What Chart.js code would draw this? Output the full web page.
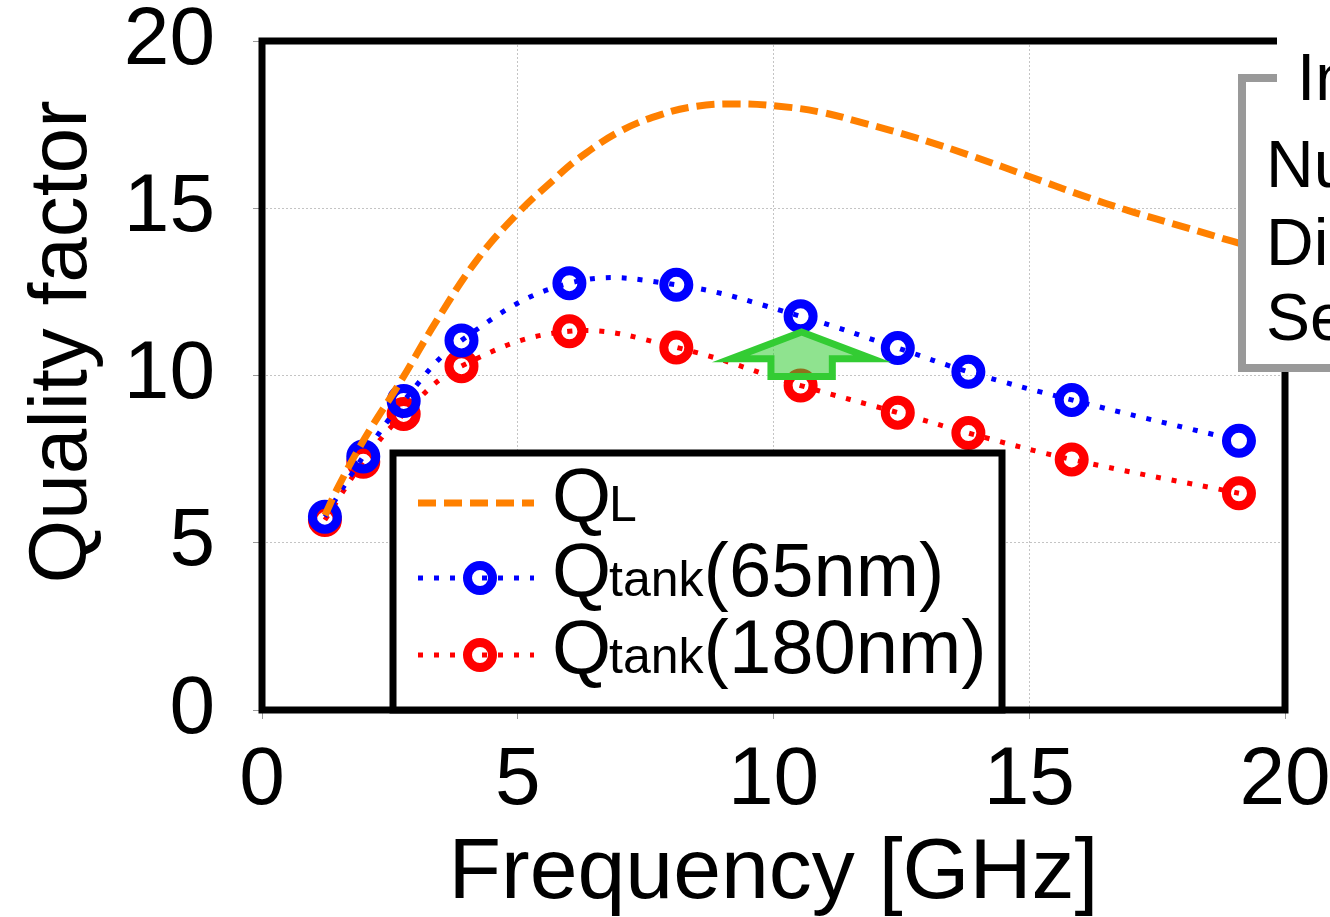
<!DOCTYPE html>
<html>
<head>
<meta charset="utf-8">
<title>Quality factor vs frequency</title>
<script src="https://cdn.jsdelivr.net/npm/chart.js@4.4.1/dist/chart.umd.min.js"></script>
<style>
  html, body { margin: 0; padding: 0; background: #fff; overflow: hidden; }
  #wrap { width: 1330px; height: 917px; position: relative; }
</style>
</head>
<body>
<div id="wrap"><canvas id="qChart" width="1330" height="917"></canvas></div>
<script>
// values
const tankFreq = [1.23, 1.98, 2.77, 3.90, 6.01, 8.10, 10.53, 12.43, 13.81, 15.83, 19.10];
const qTank65  = [5.78, 7.58, 9.24, 11.05, 12.76, 12.71, 11.77, 10.82, 10.11, 9.27, 8.05];
const qTank180 = [5.68, 7.42, 8.85, 10.28, 11.32, 10.84, 9.70, 8.89, 8.28, 7.49, 6.48];
const qlFreq   = [1.23, 1.5, 2.0, 2.7, 3.4, 4.2, 5.0, 5.7, 6.2, 7.0, 7.8, 8.5, 9.3, 10.1, 10.9, 11.8, 12.8, 13.9, 15.0, 16.0, 17.0, 18.0, 19.0, 20.0];
const qlValues = [5.82, 6.7, 8.1, 9.8, 11.6, 13.45, 14.85, 15.85, 16.5, 17.3, 17.8, 18.05, 18.12, 18.05, 17.88, 17.53, 17.1, 16.55, 15.95, 15.4, 14.9, 14.45, 14.0, 13.55];
const xTickValues = [0, 5, 10, 15, 20];
const yTickValues = [0, 5, 10, 15, 20];

// legend text: main letter, subscript, rest
const legendMain = ['Q', 'Q', 'Q'];
const legendSub  = ['L', 'tank', 'tank'];
const legendTail = ['', '(65nm)', '(180nm)'];

// inset box text (cut off at the right edge in the original)
const insetTitle = 'In';
const insetLines = ['Nu', 'Dia', 'Se'];

// green up-arrow, in data units
const arrowTip = { x: 10.55, y: 11.3 };
const arrowHead = { halfWidth: 1.38, baseY: 10.5 };
const arrowStem = { halfWidth: 0.6, bottomY: 9.97 };

const FONT = '"Liberation Sans", Arial, sans-serif';

const toPoints = (xs, ys) => xs.map((x, i) => ({ x: x, y: ys[i] }));

const extras = {
    id: 'extras',
    afterDraw(chart) {
        const { ctx, chartArea: a, scales: { x, y } } = chart;
        ctx.save();

        // plot frame
        ctx.strokeStyle = '#000';
        ctx.lineWidth = 7;
        ctx.setLineDash([]);
        ctx.strokeRect(a.left, a.top, a.right - a.left, a.bottom - a.top);

        // arrow
        const cx = x.getPixelForValue(arrowTip.x);
        const tipY = y.getPixelForValue(arrowTip.y);
        const hw = x.getPixelForValue(arrowTip.x + arrowHead.halfWidth) - cx;
        const sw = x.getPixelForValue(arrowTip.x + arrowStem.halfWidth) - cx;
        const baseY = y.getPixelForValue(arrowHead.baseY);
        const botY = y.getPixelForValue(arrowStem.bottomY);
        ctx.beginPath();
        ctx.moveTo(cx, tipY);
        ctx.lineTo(cx + hw, baseY);
        ctx.lineTo(cx + sw, baseY);
        ctx.lineTo(cx + sw, botY);
        ctx.lineTo(cx - sw, botY);
        ctx.lineTo(cx - sw, baseY);
        ctx.lineTo(cx - hw, baseY);
        ctx.closePath();
        ctx.fillStyle = 'rgba(51, 204, 51, 0.55)';
        ctx.fill();
        ctx.lineWidth = 7;
        ctx.lineJoin = 'miter';
        ctx.strokeStyle = '#33cc33';
        ctx.stroke();

        // legend box
        const lg = { left: 393, top: 453, right: 1002, bottom: a.bottom };
        ctx.fillStyle = '#fff';
        ctx.fillRect(lg.left, lg.top, lg.right - lg.left, lg.bottom - lg.top);
        ctx.strokeStyle = '#000';
        ctx.lineWidth = 7;
        ctx.strokeRect(lg.left, lg.top, lg.right - lg.left, lg.bottom - lg.top);

        const rowY = [503, 578, 655];
        chart.data.datasets.forEach((ds, i) => {
            const ry = rowY[i];
            ctx.setLineDash(ds.borderDash || []);
            ctx.lineWidth = ds.borderWidth;
            ctx.strokeStyle = ds.borderColor;
            ctx.beginPath();
            ctx.moveTo(418, ry);
            ctx.lineTo(534, ry);
            ctx.stroke();
            if (ds.pointRadius > 0) {
                ctx.setLineDash([]);
                ctx.lineWidth = ds.pointBorderWidth;
                ctx.strokeStyle = ds.pointBorderColor;
                ctx.beginPath();
                ctx.arc(480, ry, ds.pointRadius, 0, Math.PI * 2);
                ctx.stroke();
            }
            const base = ry + 18;
            let tx = 552;
            ctx.fillStyle = '#000';
            ctx.textBaseline = 'alphabetic';
            ctx.textAlign = 'left';
            ctx.font = '76px ' + FONT;
            ctx.fillText(legendMain[i], tx, base);
            tx += ctx.measureText(legendMain[i]).width - 2;
            ctx.font = '50px ' + FONT;
            ctx.fillText(legendSub[i], tx, base);
            tx += ctx.measureText(legendSub[i]).width;
            ctx.font = '76px ' + FONT;
            ctx.fillText(legendTail[i], tx, base);
        });
        ctx.setLineDash([]);

        // inset box, cut by the right edge
        ctx.fillStyle = '#fff';
        ctx.fillRect(1242, 78, 200, 290);
        ctx.strokeStyle = '#999';
        ctx.lineWidth = 8;
        ctx.strokeRect(1242, 78, 200, 290);
        ctx.fillStyle = '#fff';
        ctx.fillRect(1277, 28, 80, 55);
        ctx.fillStyle = '#000';
        ctx.font = '66px ' + FONT;
        ctx.fillText(insetTitle, 1297, 100);
        const lineBase = [187, 265, 340];
        insetLines.forEach((t, i) => ctx.fillText(t, 1266, lineBase[i]));

        // y axis title
        ctx.translate(86, 342);
        ctx.rotate(-Math.PI / 2);
        ctx.textAlign = 'center';
        ctx.font = '82px ' + FONT;
        ctx.fillText('Quality factor', 0, 0);

        ctx.restore();
    }
};

const gridStyle = {
    color: '#c4c4c4',
    lineWidth: 1,
    tickLength: 9,
    tickColor: '#999',
    tickWidth: 1
};

const chart = new Chart(document.getElementById('qChart').getContext('2d'), {
    type: 'line',
    data: {
        datasets: [{
            label: 'QL',
            data: toPoints(qlFreq, qlValues),
            borderColor: '#ff8000',
            borderWidth: 7,
            borderDash: [18, 8],
            pointRadius: 0,
            tension: 0.4,
            fill: false,
            order: 0
        }, {
            label: 'Qtank(65nm)',
            data: toPoints(tankFreq, qTank65),
            borderColor: '#0000ff',
            borderWidth: 5,
            borderDash: [5, 11],
            pointRadius: 12.5,
            pointBorderWidth: 9,
            pointBorderColor: '#0000ff',
            pointBackgroundColor: 'rgba(0,0,0,0)',
            tension: 0.4,
            fill: false,
            order: 1
        }, {
            label: 'Qtank(180nm)',
            data: toPoints(tankFreq, qTank180),
            borderColor: '#ff0000',
            borderWidth: 5,
            borderDash: [5, 11],
            pointRadius: 12.5,
            pointBorderWidth: 9,
            pointBorderColor: '#ff0000',
            pointBackgroundColor: 'rgba(0,0,0,0)',
            tension: 0.4,
            fill: false,
            order: 2
        }]
    },
    options: {
        responsive: false,
        devicePixelRatio: 1,
        animation: false,
        events: [],
        layout: { padding: { left: 0, top: 41, right: 45, bottom: 0 } },
        plugins: {
            legend: { display: false },
            tooltip: { enabled: false }
        },
        scales: {
            x: {
                type: 'linear',
                min: 0,
                max: 20,
                afterBuildTicks: (s) => { s.ticks = xTickValues.map(v => ({ value: v })); },
                afterFit: (s) => { s.height = 917 - 710; s.paddingLeft = 0; s.paddingRight = 0; },
                grid: gridStyle,
                border: { display: false, dash: [2, 2] },
                ticks: {
                    color: '#000',
                    padding: 13,
                    maxRotation: 0,
                    font: { family: FONT, size: 82 }
                },
                title: {
                    display: true,
                    text: 'Frequency [GHz]',
                    color: '#000',
                    font: { family: FONT, size: 86, lineHeight: 1 },
                    padding: { top: 0, bottom: 0 }
                }
            },
            y: {
                type: 'linear',
                min: 0,
                max: 20,
                afterBuildTicks: (s) => { s.ticks = yTickValues.map(v => ({ value: v })); },
                afterFit: (s) => { s.width = 262; s.paddingTop = 0; s.paddingBottom = 0; },
                grid: gridStyle,
                border: { display: false, dash: [2, 2] },
                ticks: {
                    color: '#000',
                    padding: 38,
                    font: { family: FONT, size: 82 }
                }
            }
        }
    },
    plugins: [extras]
});
</script>
</body>
</html>
